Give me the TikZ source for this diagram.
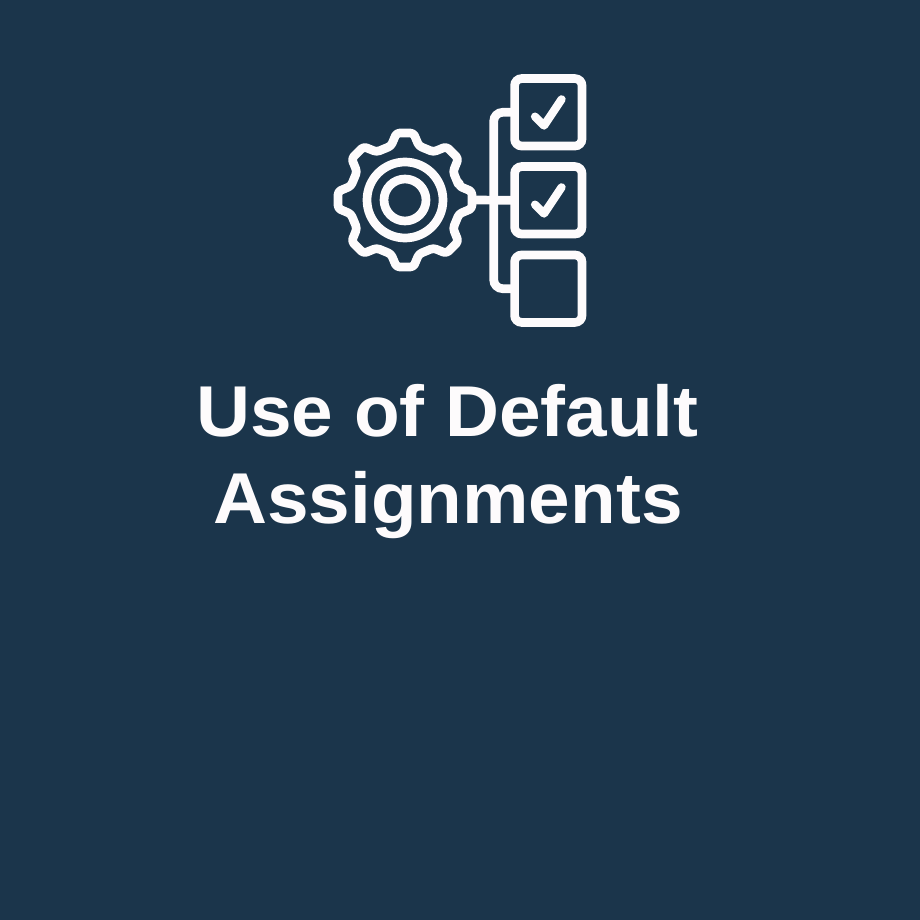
\documentclass[tikz,border=0pt]{standalone}
\usepackage{fontspec}
\setmainfont[FakeStretch=1.038]{Liberation Sans}
\usetikzlibrary{positioning}
\definecolor{iconbg}{RGB}{27,53,75}
\definecolor{iconfg}{RGB}{253,251,252}
\tikzset{
  iconline/.style={draw=iconfg,line width=8.7pt},
  ringnode/.style={circle,iconline,inner sep=0pt,outer sep=0pt},
  checkbox/.style={rectangle,iconline,rounded corners=7pt,minimum size=67.4pt,inner sep=0pt,outer sep=0pt},
  checkmark/.style={draw=iconfg,line width=8.2pt,line cap=round,line join=round},
  titleline/.style={text=iconfg,anchor=base,inner sep=0pt,font=\fontsize{72}{87}\selectfont\bfseries}
}
\begin{document}
\begin{tikzpicture}[x=1pt,y=-1pt]
\useasboundingbox (0,0) rectangle (920,920);
\fill[iconbg] (0,0) rectangle (920,920);

% Gear
\node[ringnode,minimum size=76pt] (gear) at (405,200) {};
\node[ringnode,minimum size=42pt] (gearcore) at (gear.center) {};
\begin{scope}[shift={(gear.center)}]
\draw[iconline,rounded corners=3pt,line join=round] (-14.5:55.8)
  \foreach \a in {0,45,...,315} {
    -- (\a-7.2:67.5) -- (\a+7.2:67.5) -- (\a+14.5:55.8) -- (\a+30.5:55.8)
  } -- cycle;
\coordinate (gearright) at (67.5,0);
\end{scope}

% Boxes
\node[checkbox] (boxone) at (548.3,112.3) {};
\node[checkbox] (boxtwo) at (548.3,200.3) {};
\node[checkbox] (boxthree) at (548.3,288.7) {};

% Ticks
\draw[checkmark] ([shift={(-13.3,4.3)}]boxone.center) -- ([shift={(-4.3,13.3)}]boxone.center) -- ([shift={(13.3,-13)}]boxone.center);
\draw[checkmark] ([shift={(-13.3,4.3)}]boxtwo.center) -- ([shift={(-4.3,13.3)}]boxtwo.center) -- ([shift={(13.3,-13)}]boxtwo.center);

% Connectors
\coordinate (trunk) at (493.7,200.3);
\draw[iconline] (gearright) -- (boxtwo.west);
\draw[iconline,rounded corners=9pt] (boxone.west) -| (trunk) |- (boxthree.west);

% Title
\node[titleline] (titleone) at (447.5,436) {Use of Default};
\node[titleline] (titletwo) at (448,523.3) {Assignments};
\end{tikzpicture}
\end{document}
